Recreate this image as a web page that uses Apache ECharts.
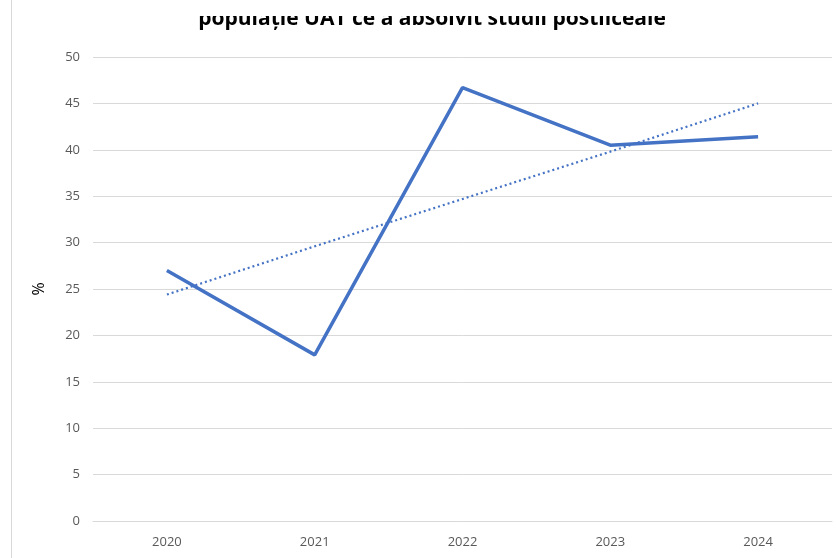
<!DOCTYPE html>
<html>
<head>
<meta charset="utf-8">
<script src="https://cdn.jsdelivr.net/npm/echarts@6/dist/echarts.min.js"></script>
<style>
    html, body { margin: 0; padding: 0; background: #fff; }
    #chart01 { width: 836px; height: 558px; }
</style>
</head>
<body>
<div id="chart01"></div>
<script>
// date
var years = ['2020', '2021', '2022', '2023', '2024'];
var procent = [27.0, 17.9, 46.7, 40.5, 41.4];
// linia de tendinta
var tendinta = [24.4, 29.6, 34.7, 39.8, 45.0];
var titlu = 'populație UAT ce a absolvit studii postliceale';

var chart01 = echarts.init(document.getElementById('chart01'));
var option = {
    backgroundColor: '#fff',
    animation: false,
    title: {
        text: titlu,
        left: 427,
        top: 4,
        textAlign: 'center',
        textStyle: {
            fontFamily: 'Open Sans',
            fontWeight: 'bold',
            fontSize: 21,
            color: '#000'
        }
    },
    grid: {
        left: 93,
        right: 4,
        top: 57,
        bottom: 37
    },
    xAxis: {
        type: 'category',
        data: years,
        axisLine: { lineStyle: { color: '#d9d9d9', width: 1 } },
        axisTick: { show: false },
        axisLabel: {
            margin: 15,
            color: '#595959',
            fontFamily: 'Open Sans',
            fontSize: 13
        }
    },
    yAxis: {
        type: 'value',
        min: 0,
        max: 50,
        interval: 5,
        name: '%',
        nameLocation: 'middle',
        nameRotate: 90,
        nameGap: 46,
        nameTextStyle: {
            color: '#000',
            fontFamily: 'Open Sans',
            fontSize: 16
        },
        axisLine: { show: false },
        axisTick: { show: false },
        splitLine: { lineStyle: { color: '#d9d9d9', width: 1 } },
        axisLabel: {
            margin: 13,
            color: '#595959',
            fontFamily: 'Open Sans',
            fontSize: 13
        }
    },
    series: [
        {
            name: 'Procent',
            type: 'line',
            data: procent,
            showSymbol: false,
            lineStyle: { color: '#4472c4', width: 3.5 },
            z: 3
        },
        {
            name: 'Tendinta',
            type: 'line',
            data: tendinta,
            showSymbol: false,
            lineStyle: { color: '#4472c4', width: 2.2, type: [2, 3] },
            z: 2
        }
    ],
    graphic: [
        {
            // bordura din stanga
            type: 'line',
            shape: { x1: 11.5, y1: 0, x2: 11.5, y2: 558 },
            style: { stroke: '#d9d9d9', lineWidth: 1 }
        },
        {
            // titlul e taiat sus
            type: 'rect',
            shape: { x: 150, y: 0, width: 560, height: 16 },
            style: { fill: '#fff' },
            z: 100
        }
    ]
};
chart01.setOption(option);
window.onresize = function () {
    chart01.resize()
}
</script>
</body>
</html>
